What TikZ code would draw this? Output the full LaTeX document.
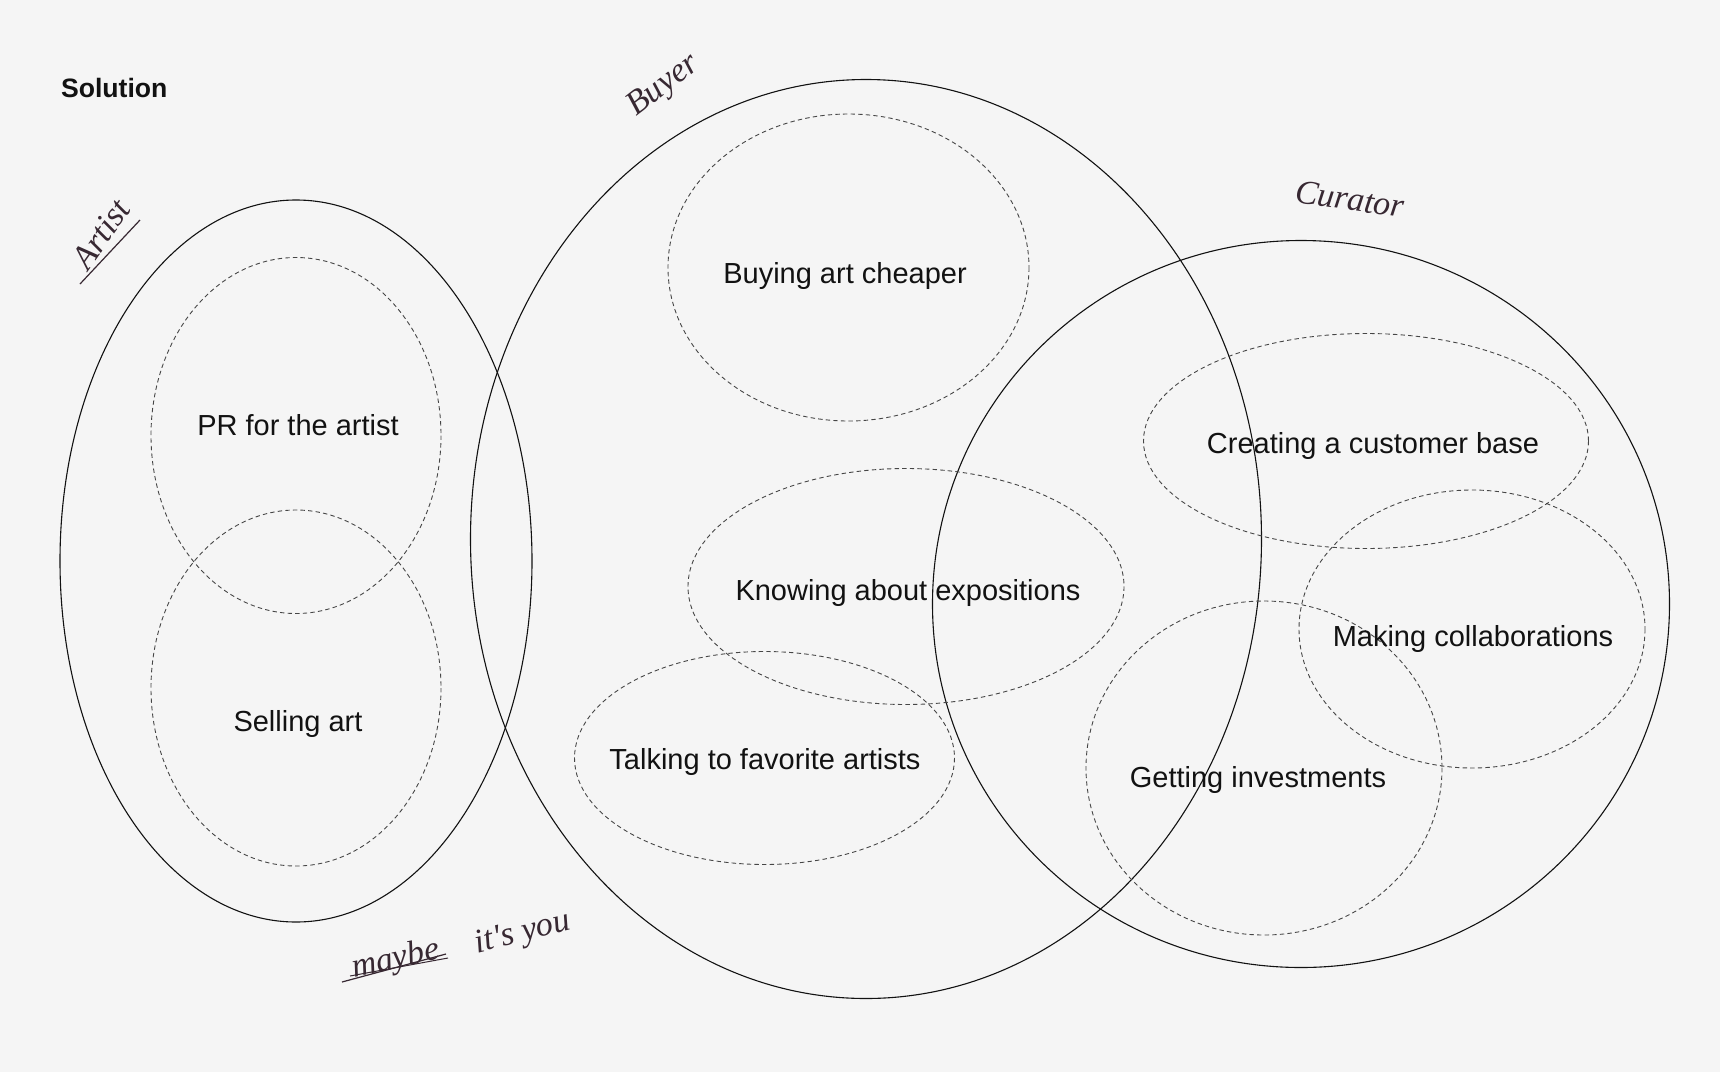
\documentclass[tikz,border=0pt]{standalone}
\usepackage{fontspec}
\setmainfont{Liberation Sans}
\newfontfamily\handfont{Liberation Serif}
\usepackage{xcolor}
\definecolor{bgpaper}{RGB}{245,245,245}
\definecolor{inkdark}{RGB}{18,18,18}
\definecolor{inkgray}{RGB}{70,70,70}
\definecolor{penink}{RGB}{55,40,50}
\usepackage{tikz}
\usetikzlibrary{positioning}

\tikzset{
  group/.style={inkdark,line width=0.55pt},
  need/.style={inkgray,line width=0.45pt,dash pattern=on 2.2pt off 1.6pt},
  lbl/.style={inkdark,font=\fontsize{14.5}{16}\selectfont},
  hand/.style={penink,font=\handfont\itshape\fontsize{17}{19}\selectfont}
}

\begin{document}
\begin{tikzpicture}[x=0.5pt,y=-0.5pt]
  % paper
  \fill[bgpaper] (0,0) rectangle (1720,1072);
  \useasboundingbox (0,0) rectangle (1720,1072);

  % title
  \node[anchor=west,inkdark,font=\bfseries\fontsize{13.3}{15}\selectfont] (title) at (54,88) {Solution};

  % the three groups
  \draw[group] (296,561) ellipse (236 and 361);   % artist
  \draw[group] (866,539) ellipse (395.5 and 459.5); % buyer
  \draw[group] (1301,604) ellipse (368.5 and 363.5); % curator

  % needs of the artist
  \draw[need] (296,435.5) ellipse (145 and 178);
  \draw[need] (296,688) ellipse (145 and 178);
  \node[lbl] (pr) at (298,425.5) {PR for the artist};
  \node[lbl] (sell) at (298,723.5) {Selling art};

  % needs of the buyer
  \draw[need] (848.5,267.5) ellipse (180.5 and 153.5);
  \draw[need] (906,586.5) ellipse (218 and 118);
  \draw[need] (764.5,758) ellipse (190 and 106.5);
  \node[lbl] (cheap) at (845,275.5) {Buying art cheaper};
  \node[lbl] (expo) at (908,592.5) {Knowing about expositions};
  \node[lbl] (talk) at (765,761.5) {Talking to favorite artists};

  % needs of the curator
  \draw[need] (1366,441) ellipse (222.5 and 107.5);
  \draw[need] (1472,629) ellipse (173 and 139);
  \draw[need] (1264,768) ellipse (178 and 167);
  \node[lbl] (base) at (1373,445.5) {Creating a customer base};
  \node[lbl] (collab) at (1473,638.5) {Making collaborations};
  \node[lbl] (invest) at (1258,779.5) {Getting investments};

  % handwritten notes
  \node[hand,rotate=38] (buyer) at (664,86) {Buyer};
  \node[hand,rotate=55] (artist) at (101,234) {Artist};
  \draw[penink,line width=0.6pt] (80,284) -- (140,220);
  \node[hand,rotate=-8] (curator) at (1350,199) {Curator};
  \node[hand,rotate=12] (maybe) at (396,960) {maybe};
  \draw[penink,line width=0.6pt] (342,982) -- (446,954);
  \draw[penink,line width=0.5pt] (350,976) -- (448,958);
  \node[hand,rotate=14] (you) at (523,934) {it's you};
\end{tikzpicture}
\end{document}
